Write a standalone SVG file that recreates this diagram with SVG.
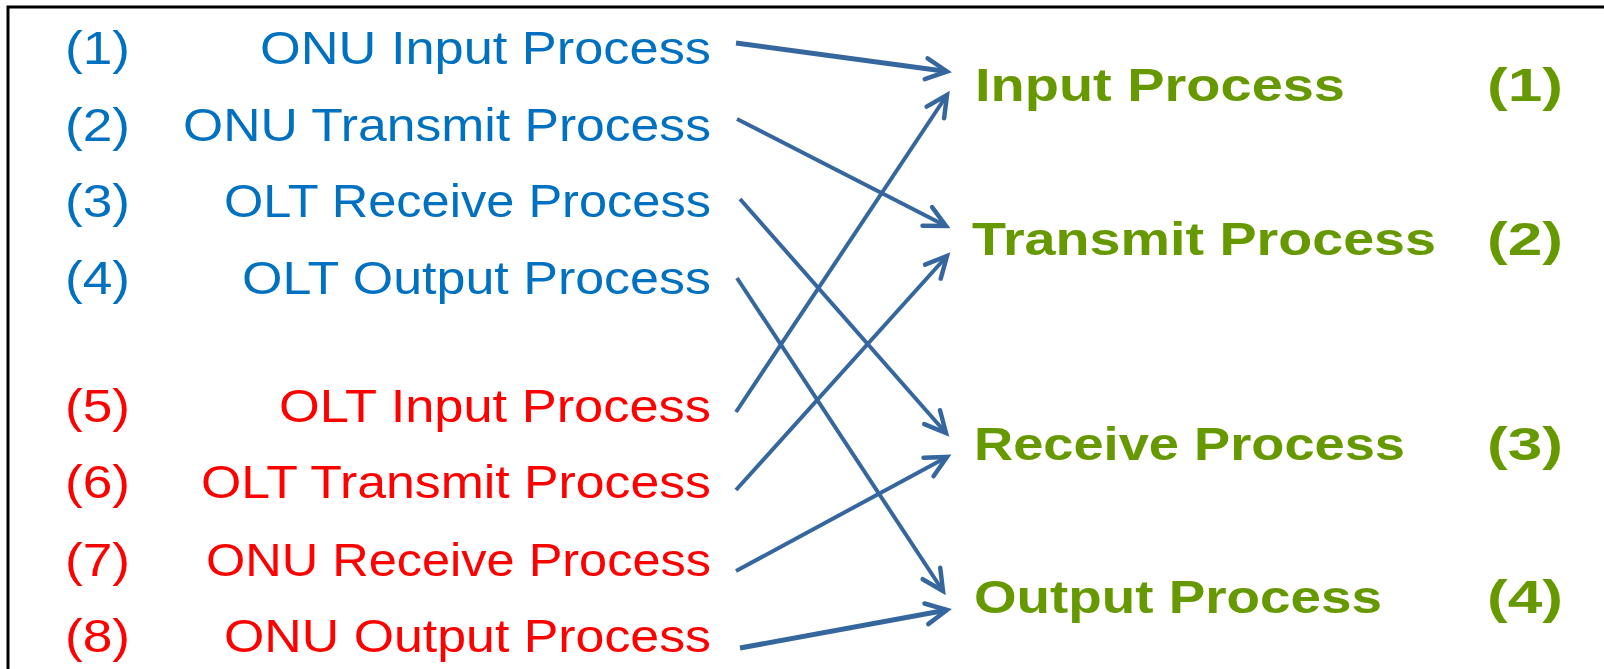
<svg xmlns="http://www.w3.org/2000/svg" width="1604" height="669" viewBox="0 0 1604 669">
<defs>
<style>
.lt{font-family:"Liberation Sans",Arial,sans-serif;font-size:47px}
.blue{fill:#0070C0}
.red{fill:#FF0000}
.rt{font-family:"Liberation Sans",Arial,sans-serif;font-size:46px;font-weight:bold;fill:#669900}
.conn line{stroke:#35679E;stroke-width:4;fill:none;marker-end:url(#ah);stroke-linecap:butt}
.conn line.thick{stroke-width:5}
</style>
<marker id="ah" markerUnits="userSpaceOnUse" viewBox="-26 -14 30 28" markerWidth="30" markerHeight="28" refX="0" refY="0" orient="auto" overflow="visible">
<path d="M-21,-10.5 L0,0 L-21,10.5" fill="none" stroke="#35679E" stroke-width="4.5" stroke-linecap="round" stroke-linejoin="miter"/>
</marker>
</defs>
<rect x="0" y="0" width="1604" height="669" fill="#FFFFFF"/>
<rect x="8" y="7" width="1610" height="680" fill="none" stroke="#000000" stroke-width="3"/>

<g id="n1"><text class="lt blue" x="65" y="64" textLength="65" lengthAdjust="spacingAndGlyphs">(1)</text><text class="lt blue" x="260" y="64" textLength="451" lengthAdjust="spacingAndGlyphs">ONU Input Process</text></g>
<g id="n2"><text class="lt blue" x="65" y="141" textLength="65" lengthAdjust="spacingAndGlyphs">(2)</text><text class="lt blue" x="183" y="141" textLength="528" lengthAdjust="spacingAndGlyphs">ONU Transmit Process</text></g>
<g id="n3"><text class="lt blue" x="65" y="217" textLength="65" lengthAdjust="spacingAndGlyphs">(3)</text><text class="lt blue" x="224" y="217" textLength="487" lengthAdjust="spacingAndGlyphs">OLT Receive Process</text></g>
<g id="n4"><text class="lt blue" x="65" y="294" textLength="65" lengthAdjust="spacingAndGlyphs">(4)</text><text class="lt blue" x="242" y="294" textLength="469" lengthAdjust="spacingAndGlyphs">OLT Output Process</text></g>
<g id="n5"><text class="lt red" x="65" y="422" textLength="65" lengthAdjust="spacingAndGlyphs">(5)</text><text class="lt red" x="279" y="422" textLength="432" lengthAdjust="spacingAndGlyphs">OLT Input Process</text></g>
<g id="n6"><text class="lt red" x="65" y="498" textLength="65" lengthAdjust="spacingAndGlyphs">(6)</text><text class="lt red" x="201" y="498" textLength="510" lengthAdjust="spacingAndGlyphs">OLT Transmit Process</text></g>
<g id="n7"><text class="lt red" x="65" y="576" textLength="65" lengthAdjust="spacingAndGlyphs">(7)</text><text class="lt red" x="206" y="576" textLength="505" lengthAdjust="spacingAndGlyphs">ONU Receive Process</text></g>
<g id="n8"><text class="lt red" x="65" y="652" textLength="65" lengthAdjust="spacingAndGlyphs">(8)</text><text class="lt red" x="224" y="652" textLength="487" lengthAdjust="spacingAndGlyphs">ONU Output Process</text></g>

<g id="r1"><text class="rt" x="975" y="101" textLength="370" lengthAdjust="spacingAndGlyphs">Input Process</text><text class="rt" x="1487" y="101" textLength="76" lengthAdjust="spacingAndGlyphs">(1)</text></g>
<g id="r2"><text class="rt" x="972" y="255" textLength="464" lengthAdjust="spacingAndGlyphs">Transmit Process</text><text class="rt" x="1487" y="255" textLength="76" lengthAdjust="spacingAndGlyphs">(2)</text></g>
<g id="r3"><text class="rt" x="974" y="460" textLength="431" lengthAdjust="spacingAndGlyphs">Receive Process</text><text class="rt" x="1487" y="460" textLength="76" lengthAdjust="spacingAndGlyphs">(3)</text></g>
<g id="r4"><text class="rt" x="974" y="613" textLength="408" lengthAdjust="spacingAndGlyphs">Output Process</text><text class="rt" x="1487" y="613" textLength="76" lengthAdjust="spacingAndGlyphs">(4)</text></g>

<g id="connectors" class="conn">
<line class="thick" x1="736" y1="43" x2="947" y2="71.5"/>
<line x1="737" y1="119" x2="946" y2="226"/>
<line x1="740" y1="199" x2="946" y2="433"/>
<line x1="737" y1="278" x2="943" y2="591"/>
<line x1="736" y1="412" x2="947" y2="95"/>
<line x1="736" y1="490" x2="947" y2="256"/>
<line x1="736" y1="571" x2="947" y2="457"/>
<line class="thick" x1="740" y1="648" x2="947" y2="610"/>
</g>
</svg>
